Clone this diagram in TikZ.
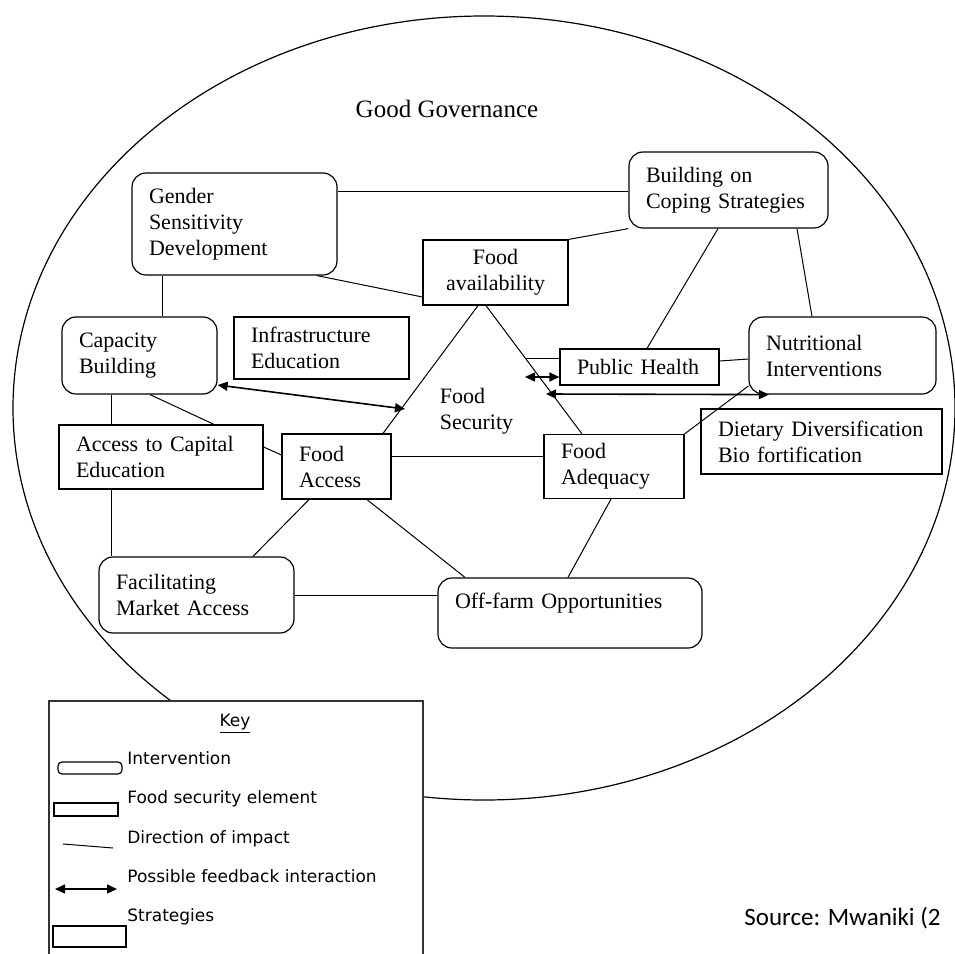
\documentclass[tikz,border=0pt]{standalone}
\usepackage{fontspec}
\setmainfont{Liberation Serif}
\newfontfamily\keyfont{DejaVu Sans}
\newfontfamily\srcfont{Carlito}
\usetikzlibrary{positioning, arrows.meta, calc}

\tikzset{
  intv/.style={draw, rounded corners=7pt, fill=white, line width=0.6pt,
               inner xsep=8.5pt, inner ysep=0pt, align=left,
               font=\fontsize{11}{13}\selectfont},
  elem/.style={draw, fill=white, line width=0.6pt,
               inner xsep=8.5pt, inner ysep=0pt, align=left,
               font=\fontsize{11}{13}\selectfont},
  link/.style={line width=0.5pt},
  fb/.style={line width=0.8pt,
             {Triangle[length=5pt,width=4.5pt]}-{Triangle[length=5pt,width=4.5pt]}},
  keytext/.style={anchor=base west, inner sep=0pt,
                  font=\keyfont\fontsize{8.5}{10}\selectfont}
}

\begin{document}
\begin{tikzpicture}[x=0.5pt, y=-0.5pt]
    \clip (0,0) rectangle (955,954);

    % governance boundary
    \draw[line width=0.6pt] (484,408) ellipse [x radius=235.5pt, y radius=196pt];
    \node[anchor=base, font=\fontsize{12.5}{15}\selectfont] (gov) at (447,117) {Good Governance};

    % interventions, strategies and food security elements
    \node[intv, text width=85.5pt, minimum height=51pt] (gender) at (234.5,224)
          {Gender\\Sensitivity\\Development};
    \node[intv, text width=82.5pt, minimum height=38pt] (build) at (728.5,190)
          {Building on\\Coping Strategies};
    \node[elem, align=center, text width=55.5pt, minimum height=32.5pt] (avail) at (495.5,272.5)
          {Food\\availability};
    \node[intv, text width=60.5pt, minimum height=38.5pt] (cap) at (139.5,355.5)
          {Capacity\\Building};
    \node[elem, text width=70.5pt, minimum height=31pt] (infra) at (321.5,348)
          {Infrastructure\\Education};
    \node[elem, text width=85pt, minimum height=32pt] (acccap) at (161,457)
          {Access to Capital\\Education};
    \node[elem, text width=37.5pt, minimum height=32.5pt] (faccess) at (336.5,466.5)
          {Food\\Access};
    \node[elem, text width=62.5pt, minimum height=18pt] (ph) at (639.5,367)
          {Public Health};
    \node[intv, text width=76.5pt, minimum height=38.5pt] (nutr) at (842.5,355.5)
          {Nutritional\\Interventions};
    \node[elem, text width=103.5pt, minimum height=32.5pt] (diet) at (821.5,441.5)
          {Dietary Diversification\\Bio fortification};
    \node[elem, text width=53pt, minimum height=32pt] (adeq) at (614,466.5)
          {Food\\Adequacy};
    \node[intv, text width=80.5pt, minimum height=38pt] (facil) at (196.5,595)
          {Facilitating\\Market Access};
    \node[intv, text width=115pt, inner ysep=4pt, text height=11pt, text depth=16pt] (offfarm) at (570,613)
          {Off-farm Opportunities};
    \node[align=left, font=\fontsize{11}{13}\selectfont] (fsec) at (476.5,411)
          {Food\\Security};

    % direction of impact
    \draw[link] (gender.east |- 0,191) -- (build.west |- 0,191);
    \draw[link] (build.south west) -- (avail.north east);
    \draw[link] (gender.south -| 317,0) -- (avail.west |- 0,297);
    \draw[link] (gender.south -| 162,0) -- (cap.north -| 162,0);
    \draw[link] (build.south -| 718,0) -- (ph.north -| 647,0);
    \draw[link] (build.south -| 797,0) -- (nutr.north -| 812,0);
    \draw[link] (avail.south -| 478,0) -- (faccess.north -| 383,0);
    \draw[link] (avail.south -| 486,0) -- (adeq.north -| 582,0)
                coordinate[pos=0.41] (edge1);
    \draw[link] (cap.south -| 111,0) -- (acccap.north -| 111,0);
    \draw[link] (cap.south -| 150,0) -- (acccap.north -| 214,0);
    \draw[link] (acccap.east |- 0,447) -- (faccess.west |- 0,455);
    \draw[link] (faccess.east |- 0,456) -- (adeq.west |- 0,456);
    \draw[link] (faccess.south -| 309,0) -- (facil.north -| 253,0);
    \draw[link] (faccess.south -| 367,0) -- (offfarm.north -| 465,0);
    \draw[link] (adeq.south -| 611,0) -- (offfarm.north -| 568,0);
    \draw[link] (acccap.south -| 111,0) -- (facil.north -| 111,0);
    \draw[link] (facil.east |- 0,595) -- (offfarm.west |- 0,595);
    \draw[link] (adeq.north east) -- (nutr.west |- 0,386);
    \draw[link] (ph.east |- 0,361) -- (nutr.west |- 0,359);
    \draw[link] (edge1) -- (ph.west |- edge1);

    % feedback interactions
    \coordinate (fsl) at (405,409);
    \coordinate (fb1) at (525,377);
    \coordinate (fb2) at (546,394);
    \draw[fb] (cap.east |- 0,385) -- (fsl);
    \draw[fb] (fb1) -- (ph.west |- fb1);
    \draw[fb] (fb2) -- (nutr.south -| 769,0);

    % key
    \draw[line width=0.6pt, draw=black!80, fill=white] (49,701) rectangle (423,975);
    \node[anchor=base, inner sep=0pt, font=\keyfont\fontsize{8.5}{10}\selectfont] (keyhead) at (235,726) {\underline{Key}};
    \draw[line width=0.6pt, rounded corners=2pt] (58,762) rectangle (122,774);
    \node[keytext] (kintv) at (127,764) {Intervention};
    \draw[line width=0.6pt] (54,803) rectangle (118,816);
    \node[keytext] (kelem) at (127,803) {Food security element};
    \draw[link] (63,844) -- (113,848);
    \node[keytext] (kdir) at (127,843) {Direction of impact};
    \draw[fb] (55,889) -- (117,889);
    \node[keytext] (kfb) at (127,882) {Possible feedback interaction};
    \draw[line width=0.6pt] (53,926) rectangle (126,947);
    \node[keytext] (kstrat) at (127,921) {Strategies};

    \node[anchor=base west, inner sep=0pt, font=\srcfont\fontsize{12.5}{15}\selectfont] (src) at (744,925)
          {Source: Mwaniki (2};
\end{tikzpicture}
\end{document}
